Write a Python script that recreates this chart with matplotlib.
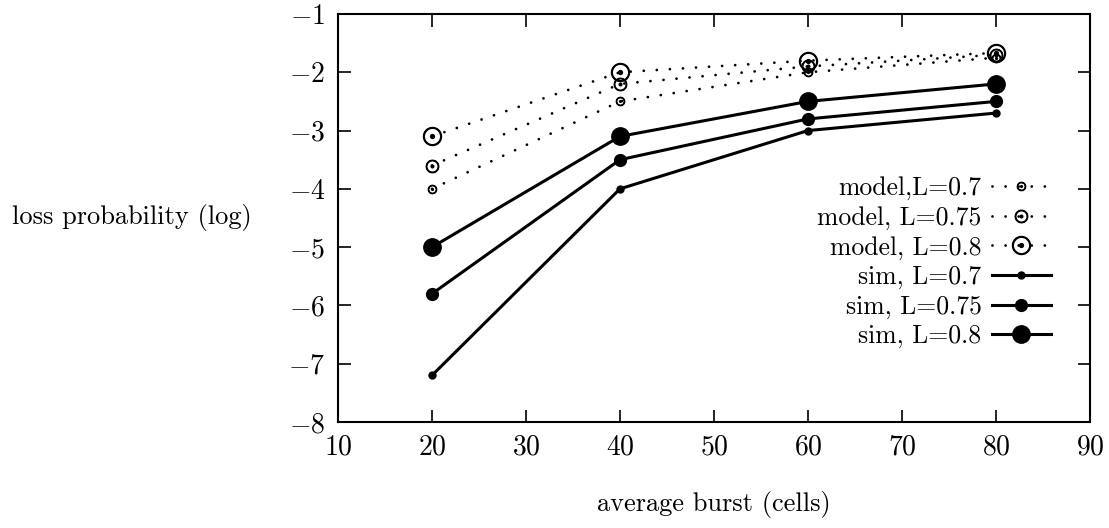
import numpy as np
import matplotlib
matplotlib.use('Agg')
import matplotlib.pyplot as plt

plt.rcParams['font.family'] = ['cmr10', 'DejaVu Serif']
plt.rcParams['mathtext.fontset'] = 'cm'
plt.rcParams['axes.formatter.use_mathtext'] = True

# values
burst = [20, 40, 60, 80]
model_07 = [-4.0, -2.5, -2.0, -1.75]
model_075 = [-3.6, -2.2, -1.9, -1.7]
model_08 = [-3.1, -2.0, -1.8, -1.67]
sim_07 = [-7.2, -4.0, -3.0, -2.7]
sim_075 = [-5.8, -3.5, -2.8, -2.5]
sim_08 = [-5.0, -3.1, -2.5, -2.2]

x_ticks = [10, 20, 30, 40, 50, 60, 70, 80, 90]
y_ticks = [-8, -7, -6, -5, -4, -3, -2, -1]

fig = plt.figure(figsize=(11.09, 5.28), dpi=100)
ax = fig.add_axes([0.3048, 0.2008, 0.678, 0.7727])

dots = (0, (0.01, 4.7))
ax.plot(burst, model_07, color='black', lw=2, ls=dots, dash_capstyle='round',
        marker=r'$\odot$', ms=6, label='model,L=0.7')
ax.plot(burst, model_075, color='black', lw=2, ls=dots, dash_capstyle='round',
        marker=r'$\odot$', ms=9, label='model, L=0.75')
ax.plot(burst, model_08, color='black', lw=2, ls=dots, dash_capstyle='round',
        marker=r'$\odot$', ms=13, label='model, L=0.8')
ax.plot(burst, sim_07, color='black', lw=2.2, marker='o', ms=5, label='sim, L=0.7')
ax.plot(burst, sim_075, color='black', lw=2.2, marker='o', ms=8.5, label='sim, L=0.75')
ax.plot(burst, sim_08, color='black', lw=2.2, marker='o', ms=12.5, label='sim, L=0.8')

ax.set_xlim(10, 90)
ax.set_ylim(-8, -1)
ax.set_xticks(x_ticks)
ax.set_yticks(y_ticks)
ax.tick_params(direction='in', length=9, width=1.2, top=True, right=True,
               labelsize=20, pad=9)
for s in ax.spines.values():
    s.set_linewidth(1.5)

ax.set_xlabel('average burst (cells)', fontsize=19)
ax.xaxis.set_label_coords(0.5, -0.203)
ax.xaxis.label.set_va('center')
ax.set_ylabel('loss probability (log)', fontsize=19, rotation=0)
ax.yaxis.set_label_coords(-0.274, 0.5)
ax.yaxis.label.set_va('center')
ax.yaxis.label.set_ha('center')

ax.legend(loc='upper right', bbox_to_anchor=(0.965, 0.633), frameon=False,
          markerfirst=False, fontsize=18.5, handlelength=2.3, handletextpad=0.4,
          labelspacing=0.22, borderpad=0)

fig.savefig('out.png', dpi=100)
